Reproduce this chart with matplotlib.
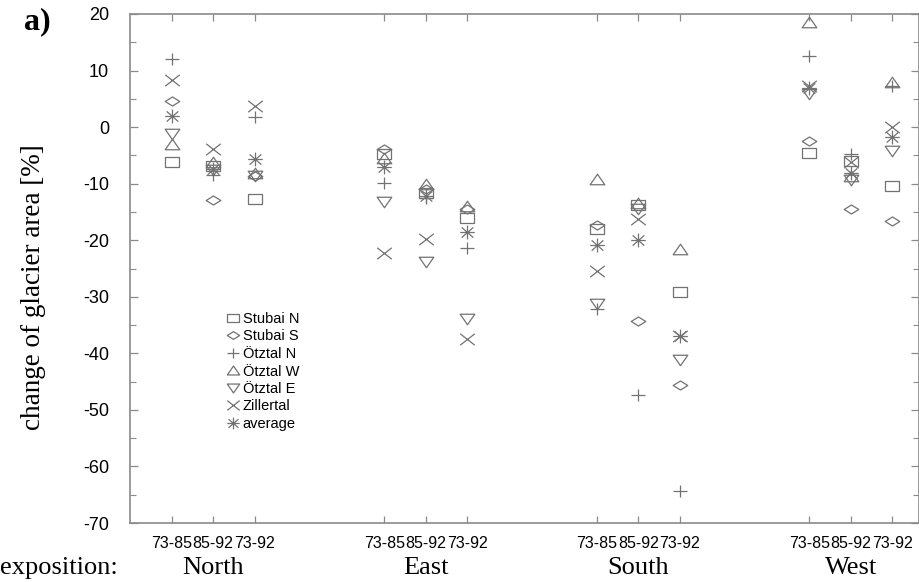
import matplotlib
matplotlib.use("Agg")
import matplotlib.pyplot as plt
from matplotlib.path import Path
import numpy as np

# ---- data -------------------------------------------------------------
expositions = ["North", "East", "South", "West"]
periods = ["73-85", "85-92", "73-92"]

series_names = ["Stubai N", "Stubai S", "Ötztal N", "Ötztal W", "Ötztal E", "Zillertal", "average"]

# change of glacier area [%], ordered North, East, South, West x (73-85, 85-92, 73-92)
stubai_n  = [-6.1, -6.8, -12.7,  -4.8, -11.7, -16.0,  -18.0, -13.7, -29.2,  -4.6,  -6.0, -10.5]
stubai_s  = [ 4.6, -12.8, -8.7,  -3.8, -11.0, -14.5,  -17.3, -34.2, -45.6,  -2.4, -14.4, -16.6]
oetztal_n = [12.0, -8.5,   1.8,  -9.8, -12.6, -21.4,  -32.2, -47.4, -64.3,  12.6,  -4.8,   7.3]
oetztal_w = [-2.9, -6.1,  -8.2,  -5.5, -10.1, -13.9,   -9.1, -13.4, -21.5,  18.5,  -8.6,   7.9]
oetztal_e = [-1.3, -7.5,  -8.6, -13.3, -23.8, -33.9,  -31.3, -14.5, -41.2,   5.8,  -9.3,  -4.2]
zillertal = [ 8.3, -3.9,   3.8, -22.2, -19.8, -37.5,  -25.4, -16.3, -36.9,   7.2,  -6.1,   0.1]
average   = [ 1.9, -7.4,  -5.7,  -7.0, -12.1, -18.5,  -20.9, -19.9, -36.9,   7.0,  -8.1,  -1.8]

y_ticks = list(range(-70, 21, 10))

# ---- marker shapes (open, slightly flattened) ------------------------
M, L, C = Path.MOVETO, Path.LINETO, Path.CLOSEPOLY

def closed(pts):
    verts = pts + [pts[0]]
    codes = [M] + [L] * (len(pts) - 1) + [C]
    return Path(verts, codes)

def segments(segs):
    verts, codes = [], []
    for a, b in segs:
        verts += [a, b]
        codes += [M, L]
    return Path(verts, codes)

mk_square = closed([(-1, -0.68), (1, -0.68), (1, 0.68), (-1, 0.68)])
mk_diamond = closed([(-1, 0), (0, 0.62), (1, 0), (0, -0.62)])
mk_plus = segments([((-1, 0), (1, 0)), ((0, -0.85), (0, 0.85))])
mk_up = closed([(0, 0.72), (-1, -0.72), (1, -0.72)])
mk_down = closed([(0, -0.72), (-1, 0.72), (1, 0.72)])
mk_cross = segments([((-1, -0.78), (1, 0.78)), ((-1, 0.78), (1, -0.78))])
mk_star = segments([((-1, 0), (1, 0)), ((0, -0.95), (0, 0.95)),
                    ((-0.8, -0.7), (0.8, 0.7)), ((-0.8, 0.7), (0.8, -0.7))])

markers = [mk_square, mk_diamond, mk_plus, mk_up, mk_down, mk_cross, mk_star]
values = [stubai_n, stubai_s, oetztal_n, oetztal_w, oetztal_e, zillertal, average]

# ---- figure -----------------------------------------------------------
W, H, DPI = 920, 582, 100
fig = plt.figure(figsize=(W / DPI, H / DPI), dpi=DPI)
ax = fig.add_axes([130 / W, 1 - 523 / H, 789 / W, (523 - 14) / H])

gray = "#727272"
spine_gray = "#8a8a8a"

# x positions: three periods per exposition, expositions spaced apart
group_step = 5.12
xpos = np.array([g * group_step + 1 + k for g in range(len(expositions)) for k in range(len(periods))])

for name, mk, vals in zip(series_names, markers, values):
    ax.plot(xpos, vals, linestyle="none", marker=mk, markersize=10.5,
            markerfacecolor="none", markeredgecolor=gray, markeredgewidth=0.9,
            label=name)

ax.set_xlim(0, 19.0)
ax.set_ylim(-70, 20)

ax.set_yticks(y_ticks)
ax.set_yticklabels([str(v) for v in y_ticks])
ax.set_yticks(np.arange(-65, 20, 10), minor=True)
ax.set_xticks(xpos)
ax.set_xticklabels(periods * len(expositions))

for s in ax.spines.values():
    s.set_color(spine_gray)
    s.set_linewidth(1.2)

ax.tick_params(axis="y", which="major", direction="in", length=6, width=0.9,
               color=spine_gray, right=True, labelsize=13, pad=15,
               labelfontfamily="Liberation Sans")
ax.tick_params(axis="y", which="minor", direction="in", length=4, width=0.8,
               color=spine_gray, right=True)
ax.tick_params(axis="x", which="major", direction="in", length=5, width=0.9,
               color=spine_gray, top=True, labelsize=11.5, pad=9,
               labelfontfamily="Liberation Sans")

ax.set_ylabel("change of glacier area [%]", family="Liberation Serif", fontsize=19.5)
ax.yaxis.set_label_coords(-84 / 789, (523 - 287) / 509)

leg = ax.legend(loc="upper left", bbox_to_anchor=((226 - 130) / 789, (523 - 312) / 509),
                frameon=False, handlelength=0.9, handletextpad=0.25,
                labelspacing=0.24, borderpad=0, borderaxespad=0,
                prop={"family": "Liberation Sans", "size": 10.5}, markerscale=0.85)

# exposition labels under each group of periods
for g, name in enumerate(expositions):
    xc = xpos[g * 3 + 1]
    xf = fig.transFigure.inverted().transform(ax.transData.transform((xc, 0)))[0]
    fig.text(xf, 1 - 568 / H, name, ha="center", va="center",
             family="Liberation Serif", fontsize=19)
fig.text(0 / W, 1 - 568 / H, "exposition:", ha="left", va="center",
         family="Liberation Serif", fontsize=19)
fig.text(24 / W, 1 - 22 / H, "a)", ha="left", va="center",
         family="Liberation Serif", fontsize=23, fontweight="bold")

fig.savefig("out.png", dpi=DPI)
